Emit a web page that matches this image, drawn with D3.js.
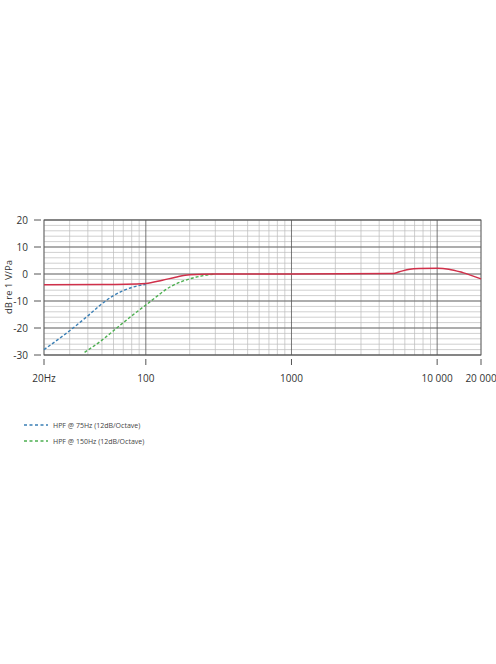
<!DOCTYPE html>
<html><head><meta charset="utf-8">
<script src="https://cdn.jsdelivr.net/npm/d3@7"></script>
<style>body{margin:0;background:#fff}text{font-family:"Open Sans",sans-serif}</style>
</head><body><svg id="chart" width="496" height="664"></svg>
<script>
// frequency response
var resp_freq = [20, 50, 100, 130, 160, 200, 300, 1000, 5000, 5500, 6500, 7500, 10000, 12000, 15000, 20000];
var resp_db   = [-4, -3.9, -3.5, -2.3, -1.2, -0.3, 0, 0, 0.2, 0.8, 1.8, 2, 2.1, 1.8, 0.5, -1.8];
var hpf75_freq = [20, 30, 40, 50, 60, 80, 100];
var hpf75_db   = [-28, -21, -15.5, -11, -8, -5, -3.8];
var hpf150_freq = [38, 50, 60, 80, 100, 150, 200, 300];
var hpf150_db   = [-29, -24.5, -21, -15.5, -11.5, -4.5, -1.8, 0];
var x_ticks = [20, 100, 1000, 10000, 20000];
var x_labels = ["20Hz", "100", "1000", "10 000", "20 000"];
var y_ticks = [20, 10, 0, -10, -20, -30];

var svg = d3.select("#chart");
var x = d3.scaleLog().domain([20, 20000]).range([44, 481]);
var y = d3.scaleLinear().domain([-30, 20]).range([355, 220]);

// minor grid
var minor = [];
[10, 100, 1000, 10000].forEach(function(d){ for (var k = 2; k <= 9; k++) if (d*k >= 20 && d*k <= 20000) minor.push(d*k); });
svg.selectAll(".vmin").data(minor).enter().append("line")
  .attr("x1", d => x(d)).attr("x2", d => x(d)).attr("y1", 220).attr("y2", 355)
  .attr("stroke", "#bbb").attr("stroke-width", 0.7);
svg.selectAll(".hmin").data(d3.range(-30, 21, 2)).enter().append("line")
  .attr("x1", 44).attr("x2", 481).attr("y1", d => y(d)).attr("y2", d => y(d))
  .attr("stroke", "#bbb").attr("stroke-width", 0.7);
// major grid
svg.selectAll(".hmaj").data(y_ticks).enter().append("line")
  .attr("x1", 44).attr("x2", 481).attr("y1", d => y(d)).attr("y2", d => y(d))
  .attr("stroke", "#555").attr("stroke-width", 0.8);
svg.selectAll(".vmaj").data([100, 1000, 10000]).enter().append("line")
  .attr("x1", d => x(d)).attr("x2", d => x(d)).attr("y1", 220).attr("y2", 355)
  .attr("stroke", "#555").attr("stroke-width", 0.8);
svg.append("rect").attr("x", 44).attr("y", 220).attr("width", 437).attr("height", 135)
  .attr("fill", "none").attr("stroke", "#555").attr("stroke-width", 0.9);

// y axis
svg.selectAll(".ytk").data(y_ticks).enter().append("line")
  .attr("x1", 34).attr("x2", 41).attr("y1", d => y(d)).attr("y2", d => y(d)).attr("stroke", "#555");
svg.selectAll(".ylb").data(y_ticks).enter().append("text")
  .attr("x", 28).attr("y", d => y(d) + 3.5).attr("text-anchor", "end")
  .attr("font-size", 10).attr("fill", "#333").text(d => d);
svg.append("text").attr("transform", "translate(12,287) rotate(-90)")
  .attr("text-anchor", "middle").attr("font-size", 9.5).attr("fill", "#333").text("dB re 1 V/Pa");

// x axis
svg.selectAll(".xtk").data(x_ticks).enter().append("line")
  .attr("x1", d => x(d)).attr("x2", d => x(d)).attr("y1", 359).attr("y2", 365).attr("stroke", "#555");
svg.selectAll(".xlb").data(x_ticks).enter().append("text")
  .attr("x", d => x(d)).attr("y", 382).attr("text-anchor", "middle")
  .attr("font-size", 10).attr("fill", "#333").text((d, i) => x_labels[i]);

var line = d3.line().x(d => x(d[0])).y(d => y(d[1])).curve(d3.curveMonotoneX);
svg.append("path").datum(d3.zip(hpf75_freq, hpf75_db)).attr("d", line)
  .attr("fill", "none").attr("stroke", "#3a7fb5").attr("stroke-width", 1.4).attr("stroke-dasharray", "3,2");
svg.append("path").datum(d3.zip(hpf150_freq, hpf150_db)).attr("d", line)
  .attr("fill", "none").attr("stroke", "#4caf50").attr("stroke-width", 1.4).attr("stroke-dasharray", "3,2");
svg.append("path").datum(d3.zip(resp_freq, resp_db)).attr("d", line)
  .attr("fill", "none").attr("stroke", "#d0304a").attr("stroke-width", 1.5);

// legend
var legend = [["HPF @ 75Hz (12dB/Octave)", "#3a7fb5"], ["HPF @ 150Hz (12dB/Octave)", "#4caf50"]];
legend.forEach(function(l, i){
  var ly = 425 + i * 16;
  svg.append("line").attr("x1", 24).attr("x2", 48).attr("y1", ly).attr("y2", ly)
    .attr("stroke", l[1]).attr("stroke-width", 1.4).attr("stroke-dasharray", "3,2.5");
  svg.append("text").attr("x", 53).attr("y", ly + 2.5).attr("font-size", 7)
    .attr("fill", "#444").text(l[0]);
});
</script></body></html>
